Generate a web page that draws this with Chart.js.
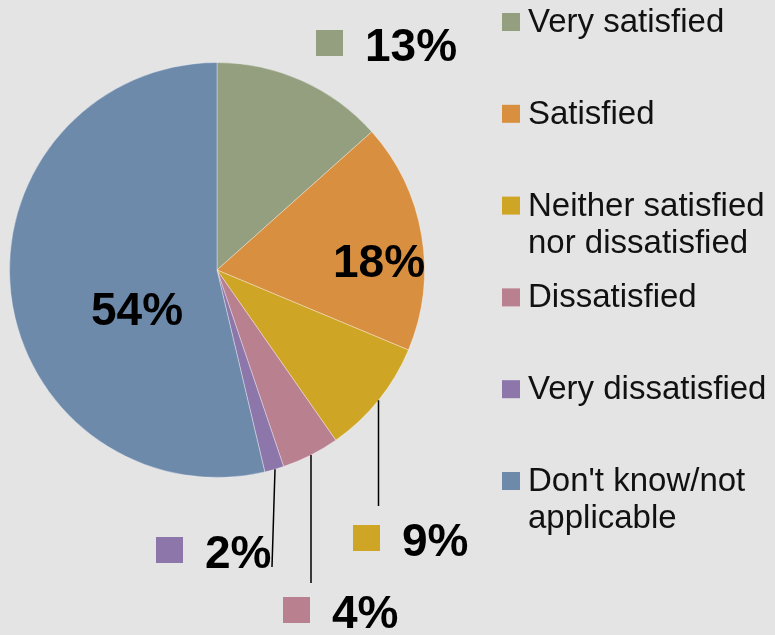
<!DOCTYPE html>
<html>
<head>
<meta charset="utf-8">
<script src="https://cdn.jsdelivr.net/npm/chart.js@4"></script>
<style>
  html, body { margin: 0; padding: 0; background: #e4e4e4; }
  #wrap { width: 775px; height: 635px; position: relative; }
</style>
</head>
<body>
<div id="wrap"><canvas id="c" width="775" height="635"></canvas></div>
<script>
// ---- data ----
const categories = ['Very satisfied', 'Satisfied', 'Neither satisfied nor dissatisfied', 'Dissatisfied', 'Very dissatisfied', "Don't know/not applicable"];
const legendLines = [['Very satisfied'], ['Satisfied'], ['Neither satisfied', 'nor dissatisfied'], ['Dissatisfied'], ['Very dissatisfied'], ["Don't know/not", 'applicable']];
const shares = [13.4, 17.9, 9.0, 4.5, 1.5, 53.7];
const shareLabels = ['13%', '18%', '9%', '4%', '2%', '54%'];
const colors = ['#939f7f', '#d98f40', '#cfa526', '#b9808f', '#8c76aa', '#6e8aab'];

// ---- label layout (offsets from pie centre, pixels) ----
const labelLayout = [
  { dx: 148, dy: -225, swatch: true },
  { dx: 162, dy: -9, swatch: false },
  { dx: 185, dy: 270, swatch: true, leader: { x0: 161.5, x1: 161.5, y1: 236 } },
  { dx: 115, dy: 342, swatch: true, leader: { x0: 94, x1: 94, y1: 313 } },
  { dx: -12, dy: 282, swatch: true, leader: { x0: 58, x1: 55, y1: 297 } },
  { dx: -80, dy: 39, swatch: false }
];

const pctFont = 'bold 46px "Liberation Sans", Arial, sans-serif';
const legFont = '33px "Liberation Sans", Arial, sans-serif';

const labelPlugin = {
  id: 'pctLabels',
  afterDatasetsDraw(chart) {
    const ctx = chart.ctx;
    const meta = chart.getDatasetMeta(0);
    meta.data.forEach((arc, i) => {
      const L = labelLayout[i];
      const cx = arc.x, cy = arc.y, R = arc.outerRadius;
      ctx.save();
      if (L.leader) {
        const lx0 = cx + L.leader.x0;
        const ly0 = cy + Math.sqrt(R * R - L.leader.x0 * L.leader.x0);
        ctx.strokeStyle = '#000';
        ctx.lineWidth = 1.5;
        ctx.beginPath();
        ctx.moveTo(lx0, ly0);
        ctx.lineTo(cx + L.leader.x1, cy + L.leader.y1);
        ctx.stroke();
      }
      const tx = cx + L.dx, ty = cy + L.dy;
      ctx.font = pctFont;
      ctx.fillStyle = '#000';
      ctx.textBaseline = 'middle';
      if (L.swatch) {
        ctx.textAlign = 'left';
        ctx.fillText(shareLabels[i], tx, ty + 3);
        ctx.fillStyle = colors[i];
        ctx.fillRect(tx - 49, ty - 15, 27, 26);
      } else {
        ctx.textAlign = 'center';
        ctx.fillText(shareLabels[i], tx, ty + 3);
      }
      ctx.restore();
    });
  }
};

const legendPlugin = {
  id: 'sideLegend',
  afterDraw(chart) {
    const ctx = chart.ctx;
    const x0 = 502, y0 = 22, step = 91.8, lineH = 37;
    ctx.save();
    ctx.font = legFont;
    ctx.textAlign = 'left';
    ctx.textBaseline = 'middle';
    categories.forEach((c, i) => {
      const y = y0 + i * step;
      ctx.fillStyle = colors[i];
      ctx.fillRect(x0, y - 9, 18, 18);
      ctx.fillStyle = '#111';
      legendLines[i].forEach((ln, k) => {
        ctx.fillText(ln, x0 + 26, y + 1 + k * lineH);
      });
    });
    ctx.restore();
  }
};

new Chart(document.getElementById('c'), {
  type: 'pie',
  data: {
    labels: categories,
    datasets: [{
      data: shares,
      backgroundColor: colors,
      borderColor: 'rgba(255,255,255,0.35)',
      borderWidth: 1
    }]
  },
  options: {
    responsive: false,
    animation: false,
    layout: { padding: { left: 9, top: 62, right: 350, bottom: 157 } },
    plugins: { legend: { display: false }, tooltip: { enabled: false } }
  },
  plugins: [labelPlugin, legendPlugin]
});
</script>
</body>
</html>
